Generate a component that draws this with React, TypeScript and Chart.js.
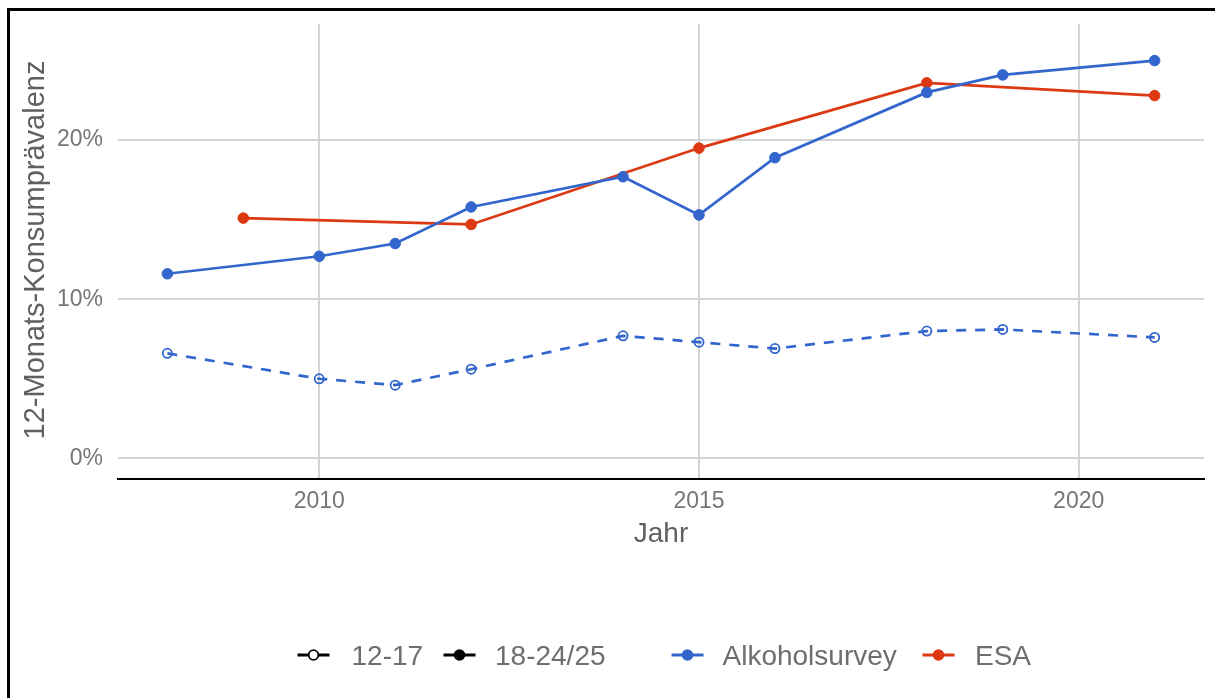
import React, { useEffect, useRef } from "react";
import { Chart, registerables } from "chart.js";

Chart.register(...registerables);

// ---- data ----
const yearsAlk = [2008, 2010, 2011, 2012, 2014, 2015, 2016, 2018, 2019, 2021];
const alkAdult = [11.6, 12.7, 13.5, 15.8, 17.7, 15.3, 18.9, 23.0, 24.1, 25.0];
const alkYouth = [6.6, 5.0, 4.6, 5.6, 7.7, 7.3, 6.9, 8.0, 8.1, 7.6];
const yearsEsa = [2009, 2012, 2015, 2018, 2021];
const esaAdult = [15.1, 14.7, 19.5, 23.6, 22.8];
const xTickValues = [2010, 2015, 2020];
const yTickValues = [0, 10, 20];
const xTitle = "Jahr";
const yTitle = "12-Monats-Konsumprävalenz";
const ageLabels = ["12-17", "18-24/25"];
const sourceLabels = ["Alkoholsurvey", "ESA"];

const BLUE = "#3366cc";
const RED = "#dc3912";
const FONT = '"Liberation Sans", Arial, sans-serif';

const toPoints = (xs: number[], ys: number[]) => xs.map((x, i) => ({ x, y: ys[i] }));

const decorPlugin = {
  id: "decor",
  afterDraw(chart: any) {
    const ctx = chart.ctx as CanvasRenderingContext2D;
    const a = chart.chartArea;
    ctx.save();
    // axis titles
    ctx.fillStyle = "#606060";
    ctx.font = `28px ${FONT}`;
    ctx.textAlign = "center";
    ctx.textBaseline = "alphabetic";
    ctx.fillText(xTitle, (a.left + a.right) / 2, 542);
    ctx.save();
    ctx.translate(43.5, 250);
    ctx.rotate(-Math.PI / 2);
    ctx.font = `29px ${FONT}`;
    ctx.fillText(yTitle, 0, 0);
    ctx.restore();

    // legend
    const items = [
      { label: ageLabels[0], color: "#000000", hollow: true, mx: 297.5, tx: 351.5 },
      { label: ageLabels[1], color: "#000000", hollow: false, mx: 443.5, tx: 495 },
      { label: sourceLabels[0], color: BLUE, hollow: false, mx: 671.5, tx: 722.5 },
      { label: sourceLabels[1], color: RED, hollow: false, mx: 922.5, tx: 975 },
    ];
    ctx.font = `28px ${FONT}`;
    ctx.textAlign = "left";
    const cy = 655;
    for (const it of items) {
      const x = it.mx;
      ctx.strokeStyle = it.color;
      ctx.lineWidth = 2.8;
      ctx.setLineDash([]);
      ctx.beginPath();
      ctx.moveTo(x, cy);
      ctx.lineTo(x + 32, cy);
      ctx.stroke();
      ctx.beginPath();
      ctx.arc(x + 16, cy, it.hollow ? 4.8 : 5.8, 0, Math.PI * 2);
      if (it.hollow) {
        ctx.fillStyle = "#ffffff";
        ctx.fill();
        ctx.lineWidth = 1.8;
        ctx.stroke();
      } else {
        ctx.fillStyle = it.color;
        ctx.fill();
      }
      ctx.fillStyle = "#6e6e6e";
      ctx.fillText(it.label, it.tx, cy + 10);
    }
    ctx.restore();
  },
};

export default function App() {
  const ref = useRef<HTMLCanvasElement | null>(null);

  useEffect(() => {
    if (!ref.current) return;
    const chart = new Chart(ref.current, {
      type: "line",
      data: {
        datasets: [
          {
            label: "Alkoholsurvey 12-17",
            data: toPoints(yearsAlk, alkYouth),
            borderColor: BLUE,
            borderWidth: 2.7,
            borderDash: [10, 9],
            pointRadius: 4.6,
            pointBorderWidth: 1.8,
            pointBackgroundColor: "rgba(0,0,0,0)",
            pointBorderColor: BLUE,
            fill: false,
            tension: 0,
          },
          {
            label: "Alkoholsurvey 18-24/25",
            data: toPoints(yearsAlk, alkAdult),
            borderColor: BLUE,
            borderWidth: 2.7,
            pointRadius: 5.3,
            pointBorderWidth: 1,
            pointBackgroundColor: BLUE,
            pointBorderColor: BLUE,
            fill: false,
            tension: 0,
          },
          {
            label: "ESA 18-24/25",
            data: toPoints(yearsEsa, esaAdult),
            borderColor: RED,
            borderWidth: 2.7,
            pointRadius: 5.3,
            pointBorderWidth: 1,
            pointBackgroundColor: RED,
            pointBorderColor: RED,
            fill: false,
            tension: 0,
          },
        ],
      },
      options: {
        animation: false,
        responsive: false,
        maintainAspectRatio: false,
        layout: { padding: { top: 24, right: 11, left: 0, bottom: 0 } },
        plugins: { legend: { display: false }, tooltip: { enabled: false } },
        scales: {
          x: {
            type: "linear",
            min: 2007.35,
            max: 2021.65,
            afterBuildTicks: (s: any) => {
              s.ticks = xTickValues.map((v) => ({ value: v }));
            },
            afterFit: (s: any) => {
              s.height = 219;
              s.paddingLeft = 0;
              s.paddingRight = 0;
            },
            ticks: {
              color: "#767676",
              font: { family: FONT, size: 23 },
              padding: 9,
              callback: (v: any) => String(v),
              maxRotation: 0,
            },
            grid: { color: "#d4d4d4", lineWidth: 2, drawTicks: false },
            border: { display: true, color: "#000000", width: 2 },
          },
          y: {
            type: "linear",
            min: -1.3,
            max: 27.3,
            afterBuildTicks: (s: any) => {
              s.ticks = yTickValues.map((v) => ({ value: v }));
            },
            afterFit: (s: any) => {
              s.width = 118;
              s.paddingTop = 0;
              s.paddingBottom = 0;
            },
            ticks: {
              color: "#767676",
              font: { family: FONT, size: 23 },
              padding: 15,
              callback: (v: any) => `${v}%`,
            },
            grid: { color: "#d4d4d4", lineWidth: 2, drawTicks: false },
            border: { display: false },
          },
        },
      },
      plugins: [decorPlugin],
    });
    return () => chart.destroy();
  }, []);

  return (
    <div style={{ position: "fixed", left: 0, top: 0, width: 1215, height: 698, background: "#ffffff" }}>
      <div
        style={{
          position: "absolute",
          left: 7,
          top: 8,
          width: 1215,
          height: 698,
          borderLeft: "3px solid #000",
          borderTop: "3px solid #000",
        }}
      />
      <canvas
        ref={ref}
        width={1215}
        height={698}
        style={{ position: "absolute", left: 0, top: 0, width: 1215, height: 698 }}
      />
    </div>
  );
}
